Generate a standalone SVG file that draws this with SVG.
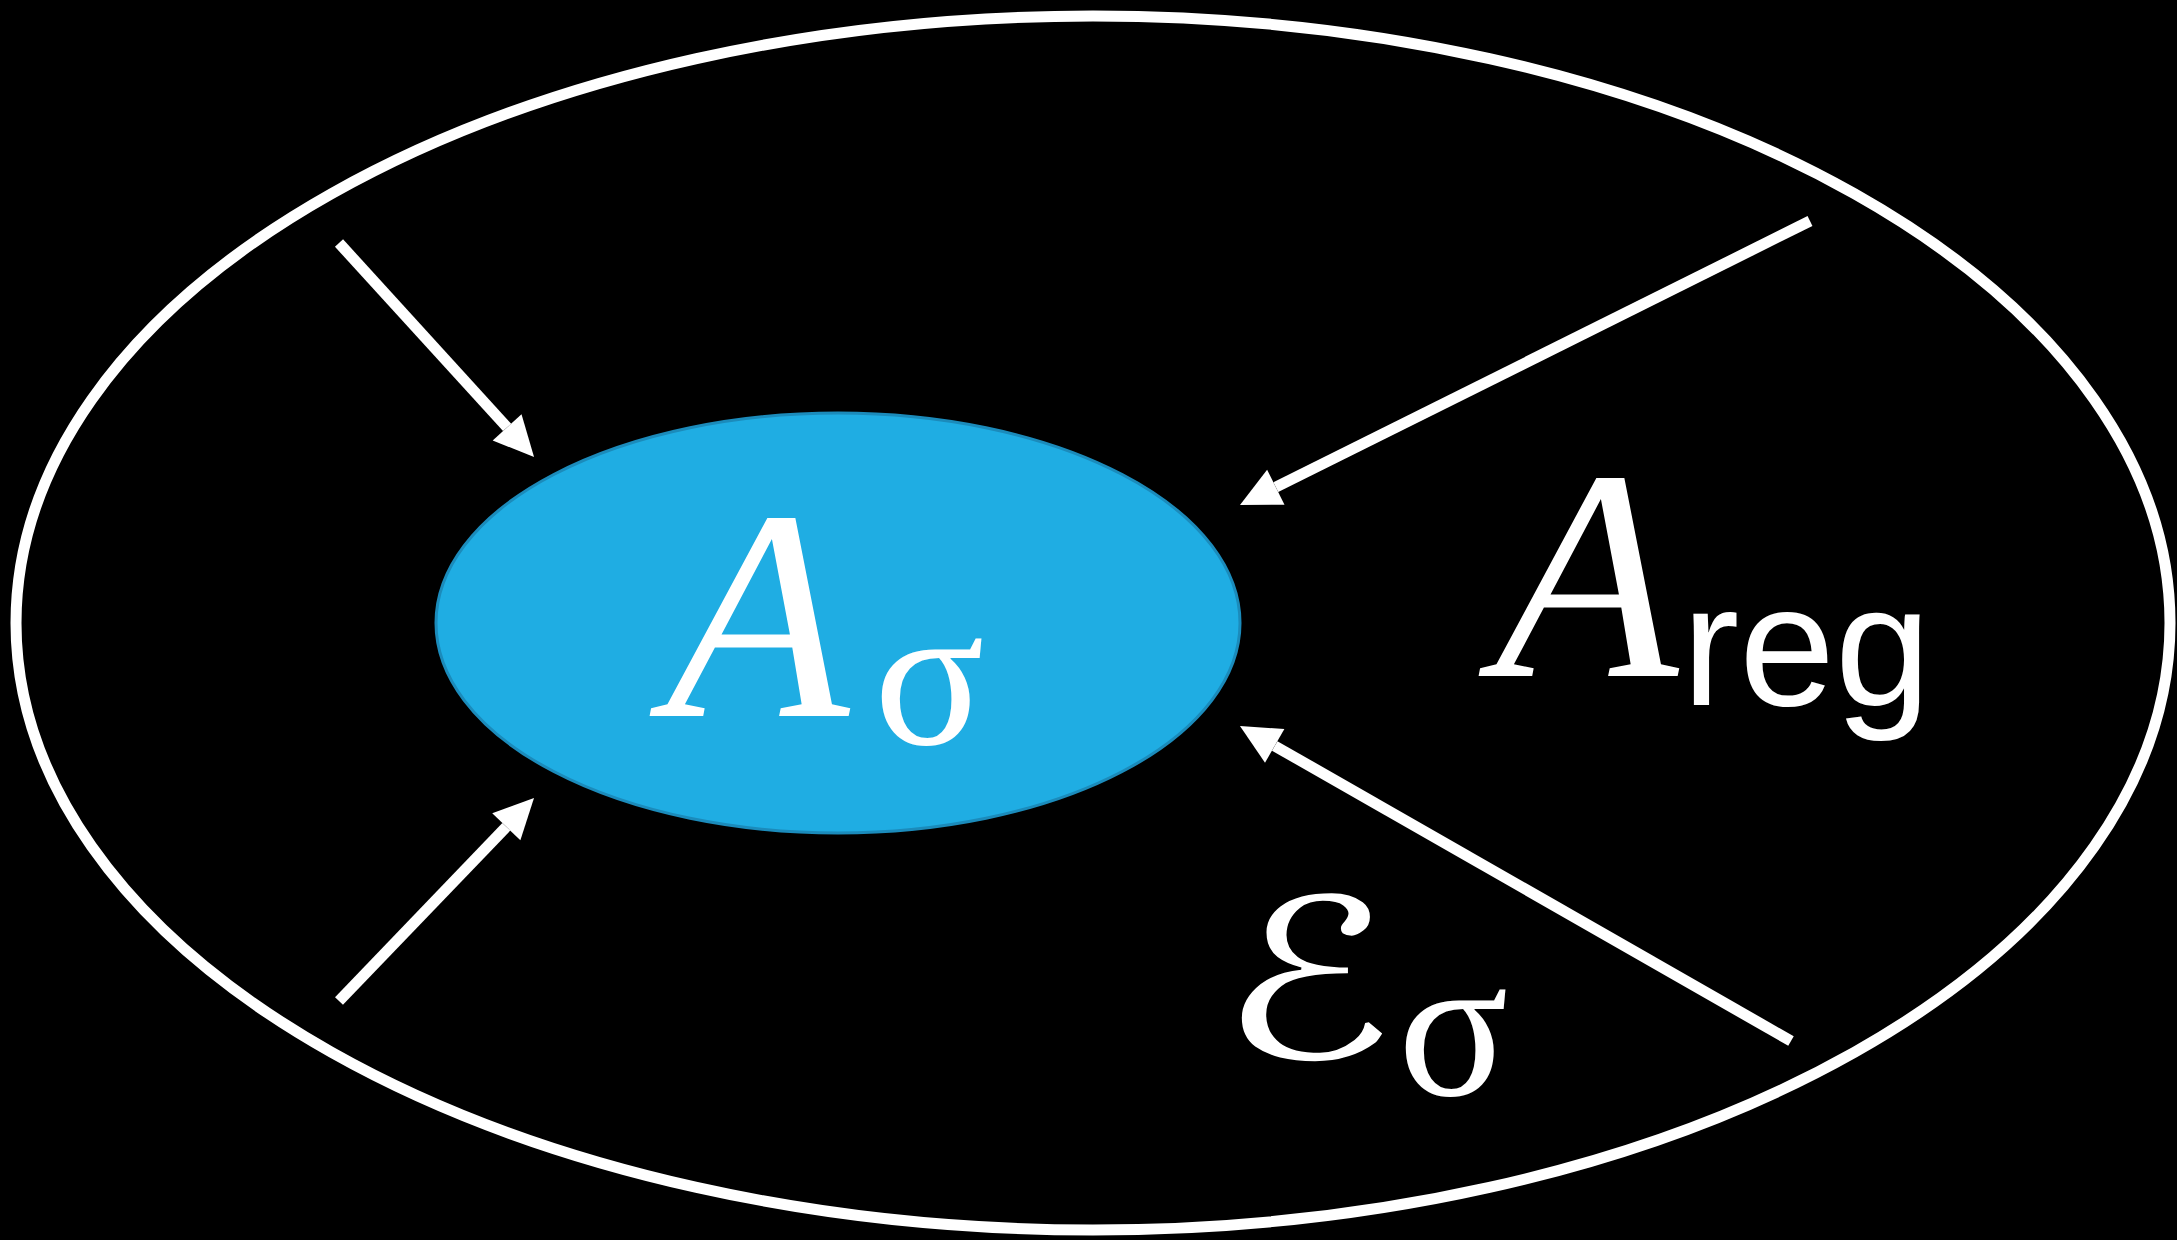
<svg xmlns="http://www.w3.org/2000/svg" width="2177" height="1240" viewBox="0 0 2177 1240">
  <style>
    .bg { fill: #000000; }
    .outer { fill: none; stroke: #ffffff; stroke-width: 11; }
    .inner { fill: #1fade3; stroke: #1b8bbb; stroke-width: 3; }
    .conn { stroke: #ffffff; stroke-width: 11; fill: none; stroke-linecap: butt; }
    .script { fill: #ffffff; font-family: "DejaVu Sans", "Liberation Serif", serif; }
    .ital { fill: #ffffff; font-family: "Liberation Serif", "DejaVu Serif", serif; font-style: italic; }
    .sigma { fill: #ffffff; font-family: "Liberation Serif", "DejaVu Serif", serif; font-style: normal; }
    .sans { fill: #ffffff; font-family: "Liberation Sans", Arial, sans-serif; font-style: normal; }
  </style>
  <defs>
    <marker id="head" markerUnits="userSpaceOnUse" markerWidth="40" markerHeight="39" refX="0" refY="19.5" orient="auto" overflow="visible">
      <path d="M0,0 L40,19.5 L0,39 Z" fill="#ffffff"/>
    </marker>
  </defs>
  <rect class="bg" x="0" y="0" width="2177" height="1240"/>

  <g id="outer-set">
    <ellipse class="outer" cx="1093" cy="623" rx="1077" ry="607"/>
  </g>

  <g id="A-sigma">
    <ellipse class="inner" cx="838" cy="623" rx="402" ry="210"/>
    <text class="ital"><tspan x="666" y="716" font-size="300">A</tspan><tspan class="sigma" x="874" y="744" font-size="205">σ</tspan></text>
  </g>

  <g id="A-reg">
    <text class="ital"><tspan x="1495" y="676" font-size="300">A</tspan><tspan class="sans" x="1682" y="705" font-size="172">reg</tspan></text>
  </g>

  <g id="E-sigma">
    <text class="script" font-size="222" transform="translate(1219,1058) scale(1.3,1)">ℰ</text>
    <text class="sigma" x="1398" y="1095" font-size="205">σ</text>
  </g>

  <g id="connectors">
    <line class="conn" x1="339" y1="243" x2="507.1" y2="427.4" marker-end="url(#head)"/>
    <line class="conn" x1="339" y1="1001" x2="506.3" y2="826.8" marker-end="url(#head)"/>
    <line class="conn" x1="1810" y1="221" x2="1275.8" y2="487.2" marker-end="url(#head)"/>
    <line class="conn" x1="1791" y1="1041" x2="1274.7" y2="745.9" marker-end="url(#head)"/>
  </g>
</svg>
